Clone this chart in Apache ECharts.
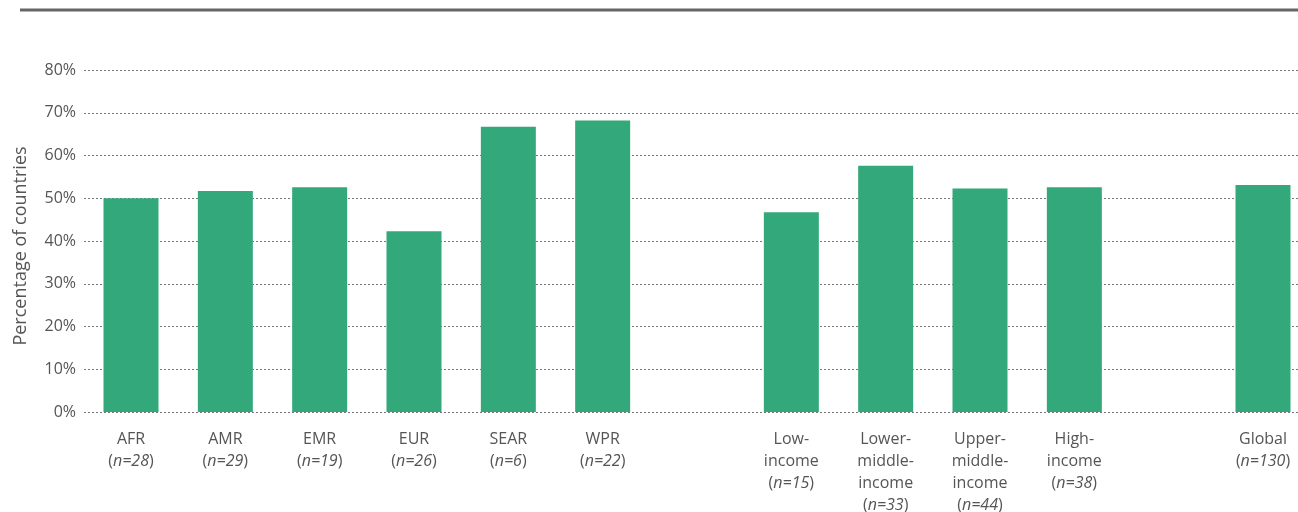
<!DOCTYPE html>
<html>
<head>
<meta charset="utf-8">
<script src="https://cdn.jsdelivr.net/npm/echarts@6/dist/echarts.min.js"></script>
<style>
  html, body { margin: 0; padding: 0; background: #fff; }
  #chart { width: 1298px; height: 512px; }
</style>
</head>
<body>
<div id="chart"></div>
<script>
// ---- data ----
const categories = ['AFR', 'AMR', 'EMR', 'EUR', 'SEAR', 'WPR', 'gap1',
  'Low-\nincome', 'Lower-\nmiddle-\nincome', 'Upper-\nmiddle-\nincome', 'High-\nincome', 'gap2', 'Global'];
const sampleSizes = [28, 29, 19, 26, 6, 22, null, 15, 33, 44, 38, null, 130];
const percentValues = [50.0, 51.7, 52.6, 42.3, 66.7, 68.2, null, 46.7, 57.6, 52.3, 52.6, null, 53.1];
const yTicks = [0, 10, 20, 30, 40, 50, 60, 70, 80];

const FONT = '"Open Sans", "Noto Sans", sans-serif';
const TXT = '#555555';

const chart = echarts.init(document.getElementById('chart'), null, { renderer: 'canvas' });

const yMin = yTicks[0], yMax = yTicks[yTicks.length - 1];

const option = {
  animation: false,
  backgroundColor: '#ffffff',
  graphic: [{
    type: 'line',
    shape: { x1: 20, y1: 10, x2: 1298, y2: 10 },
    style: { stroke: '#666666', lineWidth: 3 }
  }],
  grid: [
    // grid 0: background gridlines + y labels, runs to the right edge
    { left: 84, top: 70, right: 0, height: 342, containLabel: false, outerBoundsMode: 'none' },
    // grid 1: bars; first/last category centres at the ends
    { left: 131, top: 70, width: 1132, height: 342, containLabel: false, outerBoundsMode: 'none' }
  ],
  xAxis: [
    { type: 'value', gridIndex: 0, show: false, min: 0, max: 1 },
    {
      type: 'category',
      gridIndex: 1,
      data: categories,
      boundaryGap: false,
      axisLine: { show: false },
      axisTick: { show: false },
      splitLine: { show: false },
      axisLabel: {
        interval: 0,
        margin: 16,
        color: TXT,
        fontFamily: FONT,
        fontSize: 16,
        lineHeight: 22,
        formatter: function (value, index) {
          if (sampleSizes[index] == null) return '';
          return value + '\n{p|(}{i|n=' + sampleSizes[index] + '}{p|)}';
        },
        rich: {
          p: { color: TXT, fontFamily: FONT, fontSize: 16, lineHeight: 22 },
          i: { color: TXT, fontFamily: FONT, fontSize: 16, lineHeight: 22, fontStyle: 'italic' }
        }
      }
    }
  ],
  yAxis: [
    {
      type: 'value',
      gridIndex: 0,
      min: yMin,
      max: yMax,
      interval: 10,
      name: 'Percentage of countries',
      nameLocation: 'middle',
      nameRotate: 90,
      nameGap: 54,
      nameTextStyle: { color: TXT, fontFamily: FONT, fontSize: 18, padding: [0, 10, 0, 0] },
      axisLine: { show: false },
      axisTick: { show: false },
      axisLabel: {
        margin: 8,
        color: TXT,
        fontFamily: FONT,
        fontSize: 16,
        formatter: '{value}%'
      },
      splitLine: {
        show: true,
        lineStyle: { color: '#777777', width: 1, type: [2, 2] }
      }
    },
    {
      type: 'value',
      gridIndex: 1,
      min: yMin,
      max: yMax,
      interval: 10,
      show: false,
      splitLine: { show: false }
    }
  ],
  series: [{
    type: 'bar',
    xAxisIndex: 1,
    yAxisIndex: 1,
    data: percentValues,
    barWidth: 55,
    itemStyle: { color: '#33a97b' }
  }]
};

chart.setOption(option);
</script>
</body>
</html>
